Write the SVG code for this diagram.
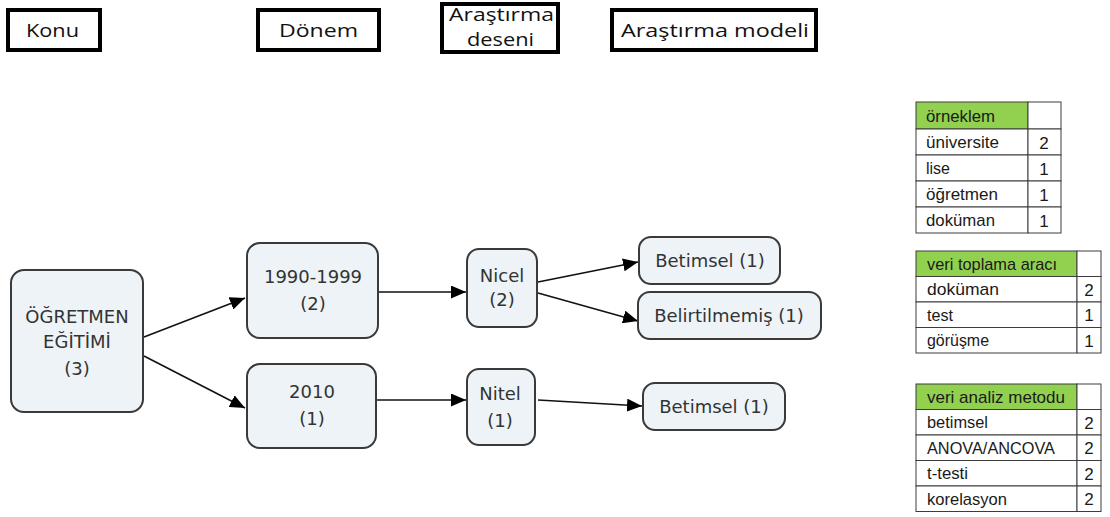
<svg xmlns="http://www.w3.org/2000/svg" width="1110" height="517" viewBox="0 0 1110 517">
<style>
.hdr{fill:#fff;stroke:#000;stroke-width:4}
.ht{font-family:"Open Sans","DejaVu Sans",sans-serif;font-size:18px;fill:#111}
.node{fill:#edf3f6;stroke:#3a3a3a;stroke-width:2}
.nt{font-family:"DejaVu Sans",Verdana,sans-serif;font-size:18px;fill:#333;text-anchor:middle}
.conn{stroke:#111;stroke-width:1.6;fill:none;marker-end:url(#arr)}
.cell{fill:#fff;stroke:#3c3c3c;stroke-width:1}
.green{fill:#92d050;stroke:#3c3c3c;stroke-width:1}
.tt{font-family:"Liberation Sans",Arial,sans-serif;font-size:17px;fill:#1a1a1a}
.tn{font-family:"Liberation Sans",Arial,sans-serif;font-size:17px;fill:#1a1a1a;text-anchor:middle}
</style>
<defs>
<marker id="arr" markerUnits="userSpaceOnUse" markerWidth="15" markerHeight="13" refX="15" refY="6.5" orient="auto">
<path d="M0,0 L15,6.5 L0,13 z" fill="#000"/>
</marker>
</defs>
<rect width="1110" height="517" fill="#fff"/>

<g id="header-konu"><rect class="hdr" x="8" y="10" width="92" height="40"/><text class="ht" x="26" y="37" textLength="53" lengthAdjust="spacingAndGlyphs">Konu</text></g>
<g id="header-donem"><rect class="hdr" x="258" y="10" width="121" height="40"/><text class="ht" x="279" y="37" textLength="79" lengthAdjust="spacingAndGlyphs">Dönem</text></g>
<g id="header-desen"><rect class="hdr" x="442" y="4" width="116" height="48"/><text class="ht" x="449" y="21" textLength="105" lengthAdjust="spacingAndGlyphs">Araştırma</text><text class="ht" x="467" y="46" textLength="67" lengthAdjust="spacingAndGlyphs">deseni</text></g>
<g id="header-model"><rect class="hdr" x="612" y="10" width="204" height="40"/><text class="ht" x="621" y="37" textLength="188" lengthAdjust="spacingAndGlyphs">Araştırma modeli</text></g>

<g id="connectors">
<line class="conn" x1="144" y1="337" x2="245" y2="298"/>
<line class="conn" x1="144" y1="356" x2="245" y2="408"/>
<line class="conn" x1="378" y1="292" x2="466" y2="292"/>
<line class="conn" x1="376" y1="400" x2="466" y2="400"/>
<line class="conn" x1="538" y1="282" x2="638" y2="262"/>
<line class="conn" x1="538" y1="293" x2="638" y2="321"/>
<line class="conn" x1="538" y1="400" x2="642" y2="406"/>
</g>

<g id="node-ogretmen"><rect class="node" x="11" y="270" width="132" height="142" rx="13"/><text class="nt" x="77" y="323">ÖĞRETMEN</text><text class="nt" x="77" y="348">EĞİTİMİ</text><text class="nt" x="77" y="375">(3)</text></g>
<g id="node-1990"><rect class="node" x="247" y="243" width="131" height="95" rx="13"/><text class="nt" x="313" y="283">1990-1999</text><text class="nt" x="313" y="310">(2)</text></g>
<g id="node-2010"><rect class="node" x="247" y="364" width="129" height="84" rx="13"/><text class="nt" x="312" y="398">2010</text><text class="nt" x="312" y="425">(1)</text></g>
<g id="node-nicel"><rect class="node" x="467" y="249" width="70" height="78" rx="12"/><text class="nt" x="502" y="282">Nicel</text><text class="nt" x="502" y="306">(2)</text></g>
<g id="node-nitel"><rect class="node" x="467" y="369" width="68" height="76" rx="12"/><text class="nt" x="500" y="400">Nitel</text><text class="nt" x="500" y="427">(1)</text></g>
<g id="node-betimsel1"><rect class="node" x="639" y="237" width="141" height="47" rx="12"/><text class="nt" x="710" y="267">Betimsel (1)</text></g>
<g id="node-belirtilmemis"><rect class="node" x="638" y="292" width="183" height="47" rx="12"/><text class="nt" x="729" y="322">Belirtilmemiş (1)</text></g>
<g id="node-betimsel2"><rect class="node" x="643" y="383" width="142" height="47" rx="12"/><text class="nt" x="714" y="413">Betimsel (1)</text></g>

<g id="table-orneklem">
<rect class="green" x="916" y="102" width="112" height="27"/><rect class="cell" x="1028" y="102" width="33" height="27"/>
<rect class="cell" x="916" y="129" width="112" height="26"/><rect class="cell" x="1028" y="129" width="33" height="26"/>
<rect class="cell" x="916" y="155" width="112" height="26"/><rect class="cell" x="1028" y="155" width="33" height="26"/>
<rect class="cell" x="916" y="181" width="112" height="26"/><rect class="cell" x="1028" y="181" width="33" height="26"/>
<rect class="cell" x="916" y="207" width="112" height="26"/><rect class="cell" x="1028" y="207" width="33" height="26"/>
<text class="tt" x="926" y="122" textLength="69" lengthAdjust="spacingAndGlyphs">örneklem</text>
<text class="tt" x="926" y="148" textLength="73" lengthAdjust="spacingAndGlyphs">üniversite</text><text class="tn" x="1044" y="149">2</text>
<text class="tt" x="926" y="174" textLength="24" lengthAdjust="spacingAndGlyphs">lise</text><text class="tn" x="1044" y="175">1</text>
<text class="tt" x="926" y="200" textLength="72" lengthAdjust="spacingAndGlyphs">öğretmen</text><text class="tn" x="1044" y="201">1</text>
<text class="tt" x="926" y="226" textLength="69" lengthAdjust="spacingAndGlyphs">doküman</text><text class="tn" x="1044" y="227">1</text>
</g>

<g id="table-veri-toplama">
<rect class="green" x="916" y="251" width="161" height="25.5"/><rect class="cell" x="1077" y="251" width="24" height="25.5"/>
<rect class="cell" x="916" y="276.5" width="161" height="25.5"/><rect class="cell" x="1077" y="276.5" width="24" height="25.5"/>
<rect class="cell" x="916" y="302" width="161" height="25.5"/><rect class="cell" x="1077" y="302" width="24" height="25.5"/>
<rect class="cell" x="916" y="327.5" width="161" height="25.5"/><rect class="cell" x="1077" y="327.5" width="24" height="25.5"/>
<text class="tt" x="927" y="270" textLength="130" lengthAdjust="spacingAndGlyphs">veri toplama aracı</text>
<text class="tt" x="927" y="295" textLength="72" lengthAdjust="spacingAndGlyphs">doküman</text><text class="tn" x="1089" y="296">2</text>
<text class="tt" x="927" y="321" textLength="26" lengthAdjust="spacingAndGlyphs">test</text><text class="tn" x="1089" y="321">1</text>
<text class="tt" x="927" y="346" textLength="62" lengthAdjust="spacingAndGlyphs">görüşme</text><text class="tn" x="1089" y="347">1</text>
</g>

<g id="table-veri-analiz">
<rect class="green" x="916" y="384" width="161" height="25.5"/><rect class="cell" x="1077" y="384" width="24" height="25.5"/>
<rect class="cell" x="916" y="409.5" width="161" height="25.5"/><rect class="cell" x="1077" y="409.5" width="24" height="25.5"/>
<rect class="cell" x="916" y="435" width="161" height="25.5"/><rect class="cell" x="1077" y="435" width="24" height="25.5"/>
<rect class="cell" x="916" y="460.5" width="161" height="25.5"/><rect class="cell" x="1077" y="460.5" width="24" height="25.5"/>
<rect class="cell" x="916" y="486" width="161" height="25.5"/><rect class="cell" x="1077" y="486" width="24" height="25.5"/>
<text class="tt" x="927" y="403" textLength="138" lengthAdjust="spacingAndGlyphs">veri analiz metodu</text>
<text class="tt" x="927" y="428" textLength="61" lengthAdjust="spacingAndGlyphs">betimsel</text><text class="tn" x="1089" y="429">2</text>
<text class="tt" x="927" y="454" textLength="128" lengthAdjust="spacingAndGlyphs">ANOVA/ANCOVA</text><text class="tn" x="1089" y="454">2</text>
<text class="tt" x="927" y="479" textLength="41" lengthAdjust="spacingAndGlyphs">t-testi</text><text class="tn" x="1089" y="480">2</text>
<text class="tt" x="927" y="505" textLength="80" lengthAdjust="spacingAndGlyphs">korelasyon</text><text class="tn" x="1089" y="505">2</text>
</g>
</svg>
